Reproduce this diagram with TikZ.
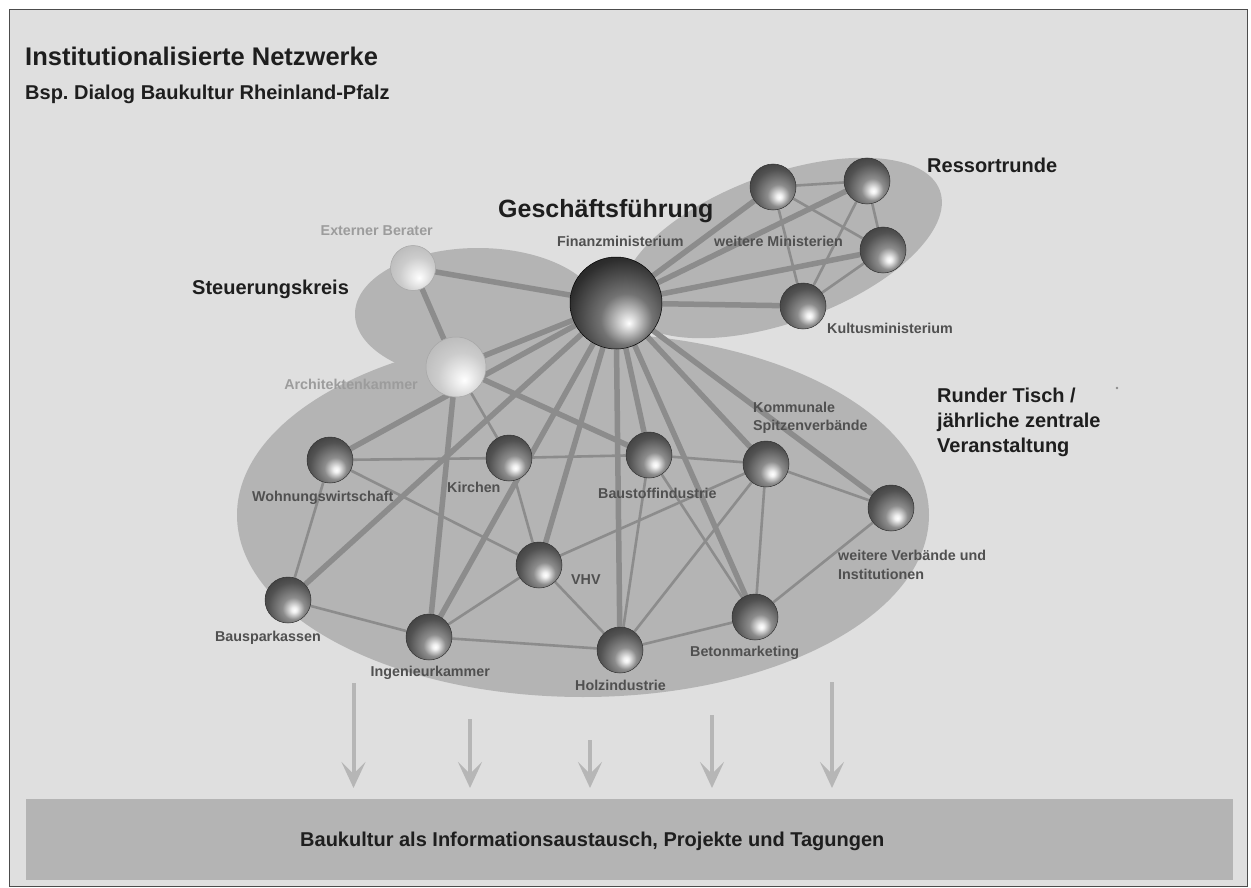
\documentclass[tikz,border=0pt]{standalone}
\usepackage{fontspec}
\setmainfont{Liberation Sans}
\usetikzlibrary{arrows.meta,positioning,shapes.geometric}

\definecolor{panelgray}{HTML}{DFDFDF}
\definecolor{regiongray}{HTML}{B4B4B4}
\definecolor{linkgray}{HTML}{8C8C8C}
\definecolor{flowgray}{HTML}{B6B6B6}
\definecolor{labelgray}{HTML}{505050}
\definecolor{palegray}{HTML}{9C9C9C}
\definecolor{headgray}{HTML}{1E1E1E}

\pgfdeclareradialshading{darkball}{\pgfpoint{7bp}{-11bp}}{color(0bp)=(white); color(3bp)=(black!6); color(12bp)=(black!45); color(26bp)=(black!68); color(40bp)=(black!80); color(55bp)=(black!86); color(70bp)=(black!88)}
\pgfdeclareradialshading{hubball}{\pgfpoint{7bp}{-11bp}}{color(0bp)=(white); color(3bp)=(black!12); color(14bp)=(black!55); color(30bp)=(black!82); color(48bp)=(black!95); color(70bp)=(black)}
\pgfdeclareradialshading{paleball}{\pgfpoint{7bp}{-11bp}}{color(0bp)=(white); color(5bp)=(black!5); color(20bp)=(black!20); color(40bp)=(black!30); color(70bp)=(black!36)}

\pgfdeclarelayer{regions}
\pgfdeclarelayer{links}
\pgfsetlayers{regions,links,main}

\tikzset{%
	sphere/.style     = {circle, inner sep=0pt, minimum size=46pt, shading=darkball, draw=black!80, line width=.5pt},
	hubsphere/.style  = {sphere, minimum size=92pt, shading=hubball, draw=black},
	palesphere/.style = {sphere, shading=paleball, draw=black!35},
	thicklink/.style  = {draw=linkgray, line width=5.5pt},
	thinlink/.style   = {draw=linkgray, line width=2.6pt},
	flow/.style       = {draw=flowgray, line width=4pt, -{Stealth[length=26pt,width=24pt,inset=12pt]}},
	lbl/.style        = {font=\fontsize{14.3}{18.4}\selectfont\bfseries, text=labelgray, inner sep=0pt, align=left},
	palelbl/.style    = {lbl, text=palegray},
	group/.style      = {font=\fontsize{20}{25}\selectfont\bfseries, text=headgray, inner sep=0pt, align=left},
	bigtitle/.style   = {font=\fontsize{25.5}{30}\selectfont\bfseries, text=headgray, inner sep=0pt},
	bar/.style        = {rectangle, fill=regiongray, minimum width=1207pt, minimum height=81pt, inner sep=0pt},
}

\begin{document}
\begin{tikzpicture}[x=1pt,y=-1pt]
	\useasboundingbox (0,0) rectangle (1251,888);

	% spheres
	\node[hubsphere] (fin) at (616,303) {};
	\node[palesphere, minimum size=45pt] (ext) at (413,268) {};
	\node[palesphere, minimum size=60pt] (ark) at (456,367) {};
	\node[sphere] (min1) at (773,187) {};
	\node[sphere] (min2) at (867,181) {};
	\node[sphere] (min3) at (883,250) {};
	\node[sphere] (kult) at (803,306) {};
	\node[sphere] (wohn) at (330,460) {};
	\node[sphere] (kirch) at (509,458) {};
	\node[sphere] (baust) at (649,455) {};
	\node[sphere] (komm) at (766,464) {};
	\node[sphere] (verb) at (891,508) {};
	\node[sphere] (vhv) at (539,565) {};
	\node[sphere] (bspk) at (288,600) {};
	\node[sphere] (ing) at (429,637) {};
	\node[sphere] (holz) at (620,650) {};
	\node[sphere] (beton) at (755,617) {};

	% groups
	\begin{pgfonlayer}{regions}
		\fill[white] (0,0) rectangle (1251,888);
		\draw[fill=panelgray, draw=black!70, line width=1.3pt] (9.5,9.5) rectangle (1247.5,886.5);
		\fill[regiongray] (478,314) ellipse [x radius=123, y radius=66];
		\fill[regiongray] (583,515) ellipse [x radius=346, y radius=182];
		\fill[regiongray, rotate around={20:(782,248)}] (782,248) ellipse [x radius=168, y radius=74];
	\end{pgfonlayer}

	% links
	\begin{pgfonlayer}{links}
		\foreach \n in {ext,ark,min1,min2,min3,kult,wohn,bspk,ing,vhv,holz,baust,beton,komm,verb}
			\draw[thicklink] (fin) -- (\n);
		\foreach \a/\b in {ext/ark,ark/ing,ark/baust}
			\draw[thicklink] (\a) -- (\b);
		\foreach \a/\b in {min1/min2,min1/min3,min1/kult,min2/min3,min2/kult,min3/kult,
			ark/kirch,wohn/kirch,kirch/baust,baust/komm,wohn/vhv,wohn/bspk,kirch/vhv,
			vhv/ing,vhv/holz,ing/holz,bspk/ing,holz/beton,vhv/komm,holz/komm,komm/beton,
			beton/verb,komm/verb,baust/holz,baust/beton}
			\draw[thinlink] (\a) -- (\b);
	\end{pgfonlayer}

	% texts
	\node[bigtitle, anchor=base west] (title) at (25,65.7) {Institutionalisierte Netzwerke};
	\node[group, anchor=base west] (subtitle) at (25,100) {Bsp.\ Dialog Baukultur Rheinland-Pfalz};
	\node[bigtitle, font=\fontsize{25}{30}\selectfont\bfseries, anchor=base west] (gf) at (498,218) {Geschäftsführung};
	\node[group, anchor=base west] (ressort) at (927,172) {Ressortrunde};
	\node[group, anchor=base west] (steuer) at (192,294) {Steuerungskreis};
	\node[group, anchor=base west] (runder) at (937,452) {Runder Tisch /\\jährliche zentrale\\Veranstaltung};

	\node[lbl, anchor=base west] (lfin) at (557,246.5) {Finanzministerium};
	\node[palelbl, anchor=base east] (lext) at (433,235) {Externer Berater};
	\node[palelbl, anchor=base east] (lark) at (418,389) {Architektenkammer};
	\node[lbl, anchor=base west] (lmin) at (714,246) {weitere Ministerien};
	\node[lbl, anchor=base west] (lkult) at (827,333) {Kultusministerium};
	\node[lbl, anchor=base west] (lwohn) at (252,501) {Wohnungswirtschaft};
	\node[lbl, anchor=base west] (lkirch) at (447,492.5) {Kirchen};
	\node[lbl, anchor=base west] (lbaust) at (598,498) {Baustoffindustrie};
	\node[lbl, anchor=base west] (lkomm) at (753,430.7) {Kommunale\\Spitzenverbände};
	\node[lbl, anchor=base west] (lverb) at (838,579) {weitere Verbände und\\Institutionen};
	\node[lbl, anchor=base west] (lvhv) at (571,584) {VHV};
	\node[lbl, anchor=base east] (lbspk) at (321,641) {Bausparkassen};
	\node[lbl, anchor=base west] (ling) at (370.5,676.7) {Ingenieurkammer};
	\node[lbl, anchor=base west] (lholz) at (575,690) {Holzindustrie};
	\node[lbl, anchor=base west] (lbeton) at (690,656) {Betonmarketing};
	\fill[black!45] (1117,388) circle (1.3);

	% outcome
	\node[bar] (bar) at (629.5,839.5) {};
	\node[group, anchor=base west] (bartxt) at (300,846) {Baukultur als Informationsaustausch, Projekte und Tagungen};
	\foreach \i/\x/\t in {1/353.5/683,2/470/719,3/590/740,4/712/715,5/832/682} {
		\coordinate (src\i) at (\x,\t);
		\coordinate (tip\i) at (\x,788);
		\draw[flow] (src\i) -- (tip\i);
	}
\end{tikzpicture}
\end{document}
